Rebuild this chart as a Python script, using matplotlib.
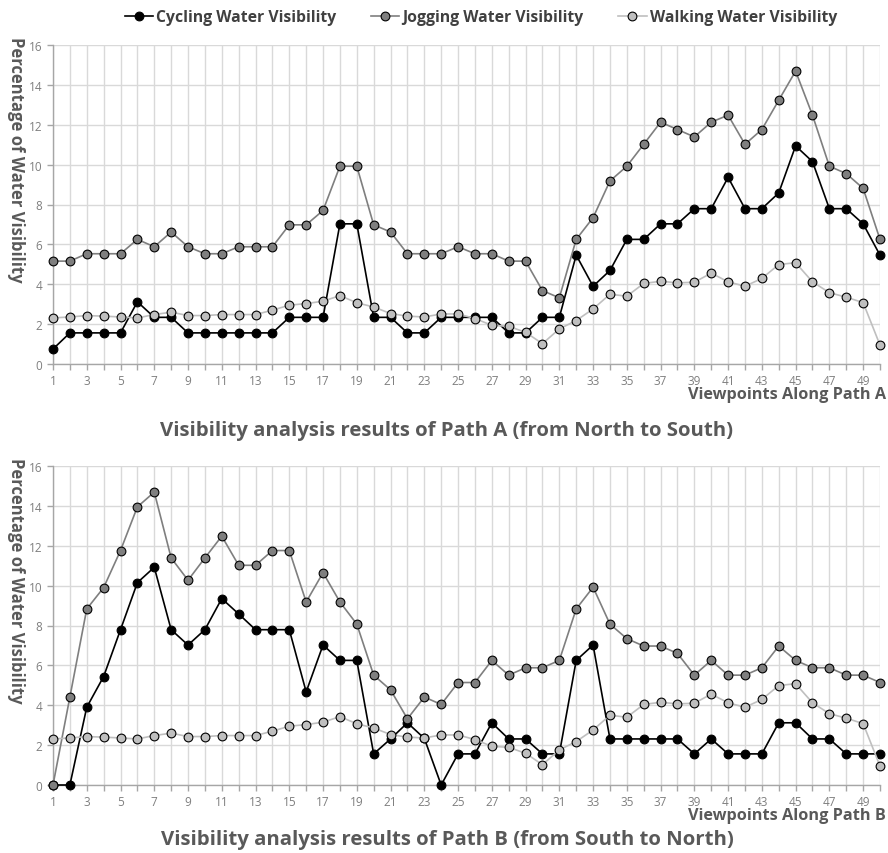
import matplotlib
matplotlib.use("Agg")
import matplotlib.pyplot as plt
import numpy as np

viewpoints = list(range(1, 51))
tick_labels = [str(v) if v % 2 == 1 else "" for v in viewpoints]

cycling_a = [0.75, 1.56, 1.56, 1.56, 1.56, 3.12, 2.34, 2.34, 1.56, 1.56,
             1.56, 1.56, 1.56, 1.56, 2.34, 2.34, 2.34, 7.03, 7.03, 2.34,
             2.34, 1.56, 1.56, 2.34, 2.34, 2.34, 2.34, 1.56, 1.56, 2.34,
             2.34, 5.46, 3.90, 4.69, 6.25, 6.25, 7.03, 7.03, 7.79, 7.79,
             9.36, 7.79, 7.79, 8.58, 10.94, 10.15, 7.79, 7.79, 7.03, 5.46]
jogging_a = [5.16, 5.16, 5.53, 5.53, 5.53, 6.25, 5.88, 6.62, 5.88, 5.53,
             5.53, 5.88, 5.88, 5.88, 6.98, 6.98, 7.70, 9.92, 9.92, 6.98,
             6.62, 5.53, 5.53, 5.53, 5.88, 5.53, 5.53, 5.16, 5.16, 3.68,
             3.32, 6.25, 7.34, 9.18, 9.92, 11.02, 12.13, 11.76, 11.39, 12.13,
             12.48, 11.02, 11.76, 13.23, 14.69, 12.48, 9.92, 9.55, 8.81, 6.25]
walking_a = [2.31, 2.36, 2.43, 2.40, 2.36, 2.31, 2.48, 2.60, 2.43, 2.43,
             2.48, 2.48, 2.48, 2.70, 2.95, 3.03, 3.15, 3.43, 3.07, 2.86,
             2.53, 2.40, 2.36, 2.51, 2.51, 2.28, 1.94, 1.89, 1.59, 1.02,
             1.76, 2.18, 2.76, 3.50, 3.40, 4.04, 4.15, 4.07, 4.10, 4.56,
             4.12, 3.90, 4.29, 4.99, 5.08, 4.12, 3.58, 3.35, 3.08, 0.95]

cycling_b = [0.00, 0.00, 3.90, 5.44, 7.79, 10.15, 10.92, 7.79, 7.02, 7.79,
             9.35, 8.58, 7.79, 7.79, 7.79, 4.67, 7.02, 6.25, 6.25, 1.56,
             2.31, 3.12, 2.34, 0.00, 1.56, 1.56, 3.12, 2.31, 2.31, 1.56,
             1.56, 6.25, 7.02, 2.31, 2.31, 2.31, 2.31, 2.31, 1.56, 2.31,
             1.56, 1.56, 1.56, 3.12, 3.12, 2.31, 2.31, 1.56, 1.56, 1.56]
jogging_b = [0.00, 4.41, 8.83, 9.90, 11.76, 13.95, 14.69, 11.39, 10.27, 11.39,
             12.48, 11.02, 11.02, 11.76, 11.76, 9.18, 10.65, 9.18, 8.07, 5.51,
             4.77, 3.32, 4.41, 4.04, 5.14, 5.14, 6.25, 5.51, 5.88, 5.88,
             6.25, 8.83, 9.92, 8.07, 7.34, 6.97, 6.97, 6.60, 5.51, 6.25,
             5.51, 5.51, 5.88, 6.97, 6.25, 5.88, 5.88, 5.51, 5.51, 5.14]
walking_b = list(walking_a)

series_names = ["Cycling Water Visibility", "Jogging Water Visibility", "Walking Water Visibility"]
y_ticks = [0, 2, 4, 6, 8, 10, 12, 14, 16]

FONT = "Open Sans"
TXT = "#595959"
line_colors = ["#000000", "#7f7f7f", "#bfbfbf"]
face_colors = ["#000000", "#7f7f7f", "#bfbfbf"]

W, H = 888, 854
fig = plt.figure(figsize=(W / 100, H / 100), dpi=100)
ax_a = fig.add_axes([53 / W, 1 - 365 / H, 827 / W, 319 / H])
ax_b = fig.add_axes([53 / W, 1 - 786 / H, 827 / W, 319 / H])

panels = [
    (ax_a, [cycling_a, jogging_a, walking_a], "Viewpoints Along Path A",
     "Visibility analysis results of Path A (from North to South)", 395, 431, 160),
    (ax_b, [cycling_b, jogging_b, walking_b], "Viewpoints Along Path B",
     "Visibility analysis results of Path B (from South to North)", 816, 840, 581),
]

handles = []
for ax, data, xlab, title, xl_y, t_y, yl_y in panels:
    hs = []
    for i, (vals, name) in enumerate(zip(data, series_names)):
        h, = ax.plot(viewpoints, vals, color=line_colors[i], lw=1.2,
                     marker="o", ms=6.3, mfc=face_colors[i], mec="#000000",
                     mew=0.8, label=name, clip_on=False, zorder=3 + i)
        hs.append(h)
    handles = hs
    ax.set_xlim(1, 50)
    ax.set_ylim(0, 16)
    ax.set_xticks(viewpoints)
    ax.set_xticklabels(tick_labels)
    ax.set_yticks(y_ticks)
    ax.grid(True, color="#d9d9d9", lw=1.0, zorder=0)
    ax.set_axisbelow(True)
    for s in ["top", "right"]:
        ax.spines[s].set_visible(False)
    for s in ["left", "bottom"]:
        ax.spines[s].set_color("#a6a6a6")
        ax.spines[s].set_linewidth(1.0)
    ax.tick_params(axis="both", colors="#a6a6a6", labelcolor="#7f7f7f", labelsize=8.5,
                   length=4, width=1.0, direction="out")
    for lbl in ax.get_xticklabels() + ax.get_yticklabels():
        lbl.set_fontfamily(FONT)
    fig.text(16 / W, 1 - yl_y / H, "Percentage of Water Visibility", rotation=270,
             ha="center", va="center", fontsize=12, fontweight="bold",
             color=TXT, fontfamily=FONT)
    fig.text(886 / W, 1 - xl_y / H, xlab, ha="right", va="center",
             fontsize=11.7, fontweight="bold", color=TXT, fontfamily=FONT)
    fig.text(447 / W, 1 - t_y / H, title, ha="center", va="center",
             fontsize=14.7, fontweight="bold", color=TXT, fontfamily=FONT)

fig.legend(handles=handles, labels=series_names, loc="center",
           bbox_to_anchor=(481 / W, 1 - 18 / H), ncol=3, frameon=False,
           prop={"family": FONT, "weight": "bold", "size": 11.3},
           handlelength=1.8, handletextpad=0.2, columnspacing=2.2,
           labelcolor="#404040")

fig.savefig("out.png", dpi=100)
